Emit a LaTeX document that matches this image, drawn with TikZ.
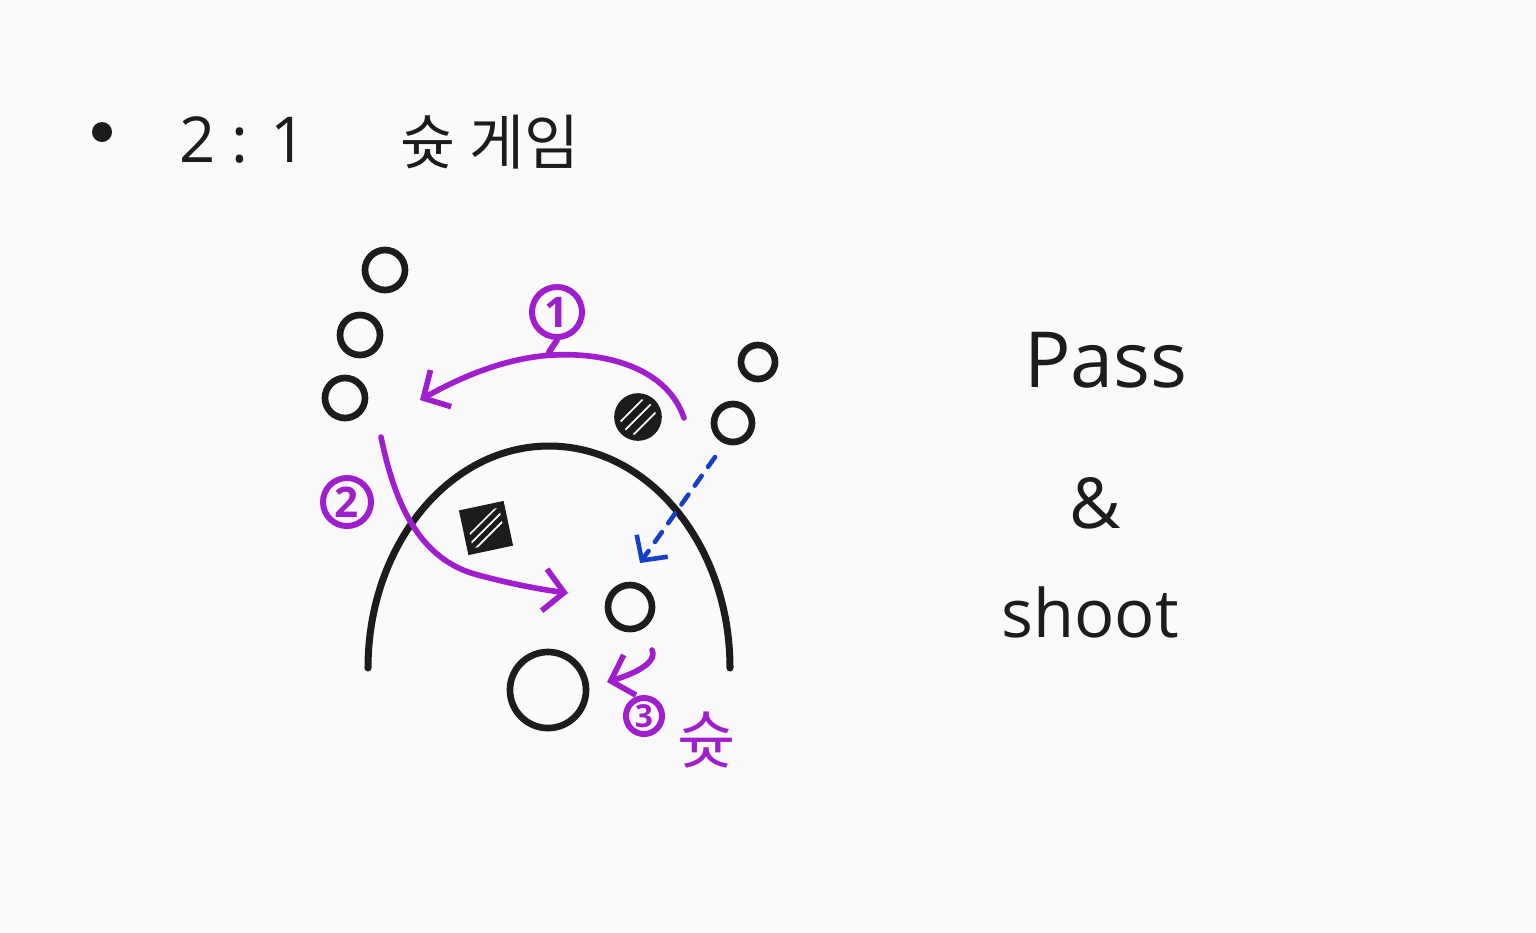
\documentclass[tikz,border=0pt]{standalone}
\usepackage{fontspec}
\setmainfont{Open Sans}
\newfontfamily\korfont{Noto Sans CJK KR}
\usetikzlibrary{arrows.meta,positioning}
\definecolor{inkblack}{RGB}{28,28,28}
\definecolor{inkpurple}{RGB}{160,30,205}
\definecolor{inkblue}{RGB}{22,62,200}
\definecolor{paper}{RGB}{250,250,250}

\begin{document}
\begin{tikzpicture}[x=0.01cm, y=-0.01cm,
  every node/.style={inner sep=0pt},
  player/.style={circle, draw=inkblack, line width=1.9pt, minimum size=0.4cm},
  hatched/.style={fill=inkblack, draw=inkblack, line width=1.6pt,
    path picture={
      \foreach \s in {-0.13,0,0.13}
        \draw[paper, line width=0.5pt]
          ([xshift=\s cm]path picture bounding box.south west) --
          ([xshift=\s cm]path picture bounding box.north east);}},
  numlabel/.style={circle, draw=inkpurple, text=inkpurple, line width=1.7pt,
                   font=\fontsize{12}{12}\selectfont\bfseries},
  passline/.style={draw=inkpurple, line width=1.6pt, line cap=round,
                   -{Straight Barb[length=0.2cm, width=0.42cm, line width=1.6pt]}},
  runline/.style={draw=inkblue, line width=1.3pt, line cap=round,
                  dash pattern=on 0.12cm off 0.11cm,
                  -{Straight Barb[length=0.18cm, width=0.38cm, line width=1.3pt]}},
]

%% Paper
\fill[paper] (0,0) rectangle (1536,932);
\useasboundingbox (0,0) rectangle (1536,932);

%% Title line
\node[circle, fill=inkblack, minimum size=0.2cm] (bullet) at (102,132) {};
\node[font=\fontsize{18}{18}\selectfont, text=inkblack] (ratio) at (243,140) {2 : 1};
\node[font=\korfont\fontsize{17}{17}\selectfont, text=inkblack] (title) at (490,142) {슛 게임};

%% Three-point arc
\draw[inkblack, line width=2pt, line cap=round]
  (368,668) arc[start angle=180, end angle=360, x radius=181, y radius=222];

%% Offense (open circles)
\node[player] (ptop)   at (385,270) {};
\node[player] (pmid)   at (360,335) {};
\node[player] (pleft)  at (345,398) {};
\node[player, minimum size=0.34cm] (pwing) at (758,362) {};
\node[player, minimum size=0.38cm] (pball) at (733,423) {};
\node[player, minimum size=0.44cm] (pcut)  at (630,607) {};
\node[player, minimum size=0.76cm] (goal)  at (548,690) {};

%% Defense (hatched)
\node[hatched, circle, minimum size=0.42cm] (dtop) at (638,417) {};
\node[hatched, rectangle, minimum size=0.4cm, rotate=12] (dlow) at (486,528) {};

%% Step labels
\node[numlabel, minimum size=0.5cm]  (one)   at (557,312) {1};
\node[numlabel, minimum size=0.48cm] (two)   at (347,502) {2};
\node[numlabel, minimum size=0.36cm, font=\fontsize{9}{9}\selectfont\bfseries]
  (three) at (644,716) {3};
\draw[inkpurple, line width=1.7pt, line cap=round] (one.south) -- ++(-8,12);

%% Arrow ends
\coordinate (pass1a) at (684,418);
\coordinate (pass1b) at (420,400);
\coordinate (cut2a)  at (381,437);
\coordinate (cut2b)  at (568,593);
\coordinate (run3a)  at (652,650);
\coordinate (run3b)  at (607,682);
\coordinate (movea)  at (715,457);
\coordinate (moveb)  at (640,563);

%% Passes and cuts
\draw[passline] (pass1a) .. controls (668,370) and (610,352) .. (553,355)
  .. controls (500,358) and (452,382) .. (pass1b);
\draw[passline] (cut2a) .. controls (395,505) and (420,560) .. (478,575)
  .. controls (515,585) and (545,590) .. (cut2b);
\draw[passline] (run3a) .. controls (658,664) and (630,675) .. (run3b);
\draw[runline] (movea) -- (moveb);

%% Shot label
\node[font=\korfont\fontsize{18}{18}\selectfont, text=inkpurple] (shot) at (707,740) {슛};

%% Right side words
\node[font=\fontsize{22}{22}\selectfont, text=inkblack] (pass)  at (1106,360) {Pass};
\node[font=\fontsize{20}{20}\selectfont, text=inkblack] (amp)   at (1095,503) {\&};
\node[font=\fontsize{19}{19}\selectfont, text=inkblack] (shoot) at (1090,612) {shoot};

\end{tikzpicture}
\end{document}
